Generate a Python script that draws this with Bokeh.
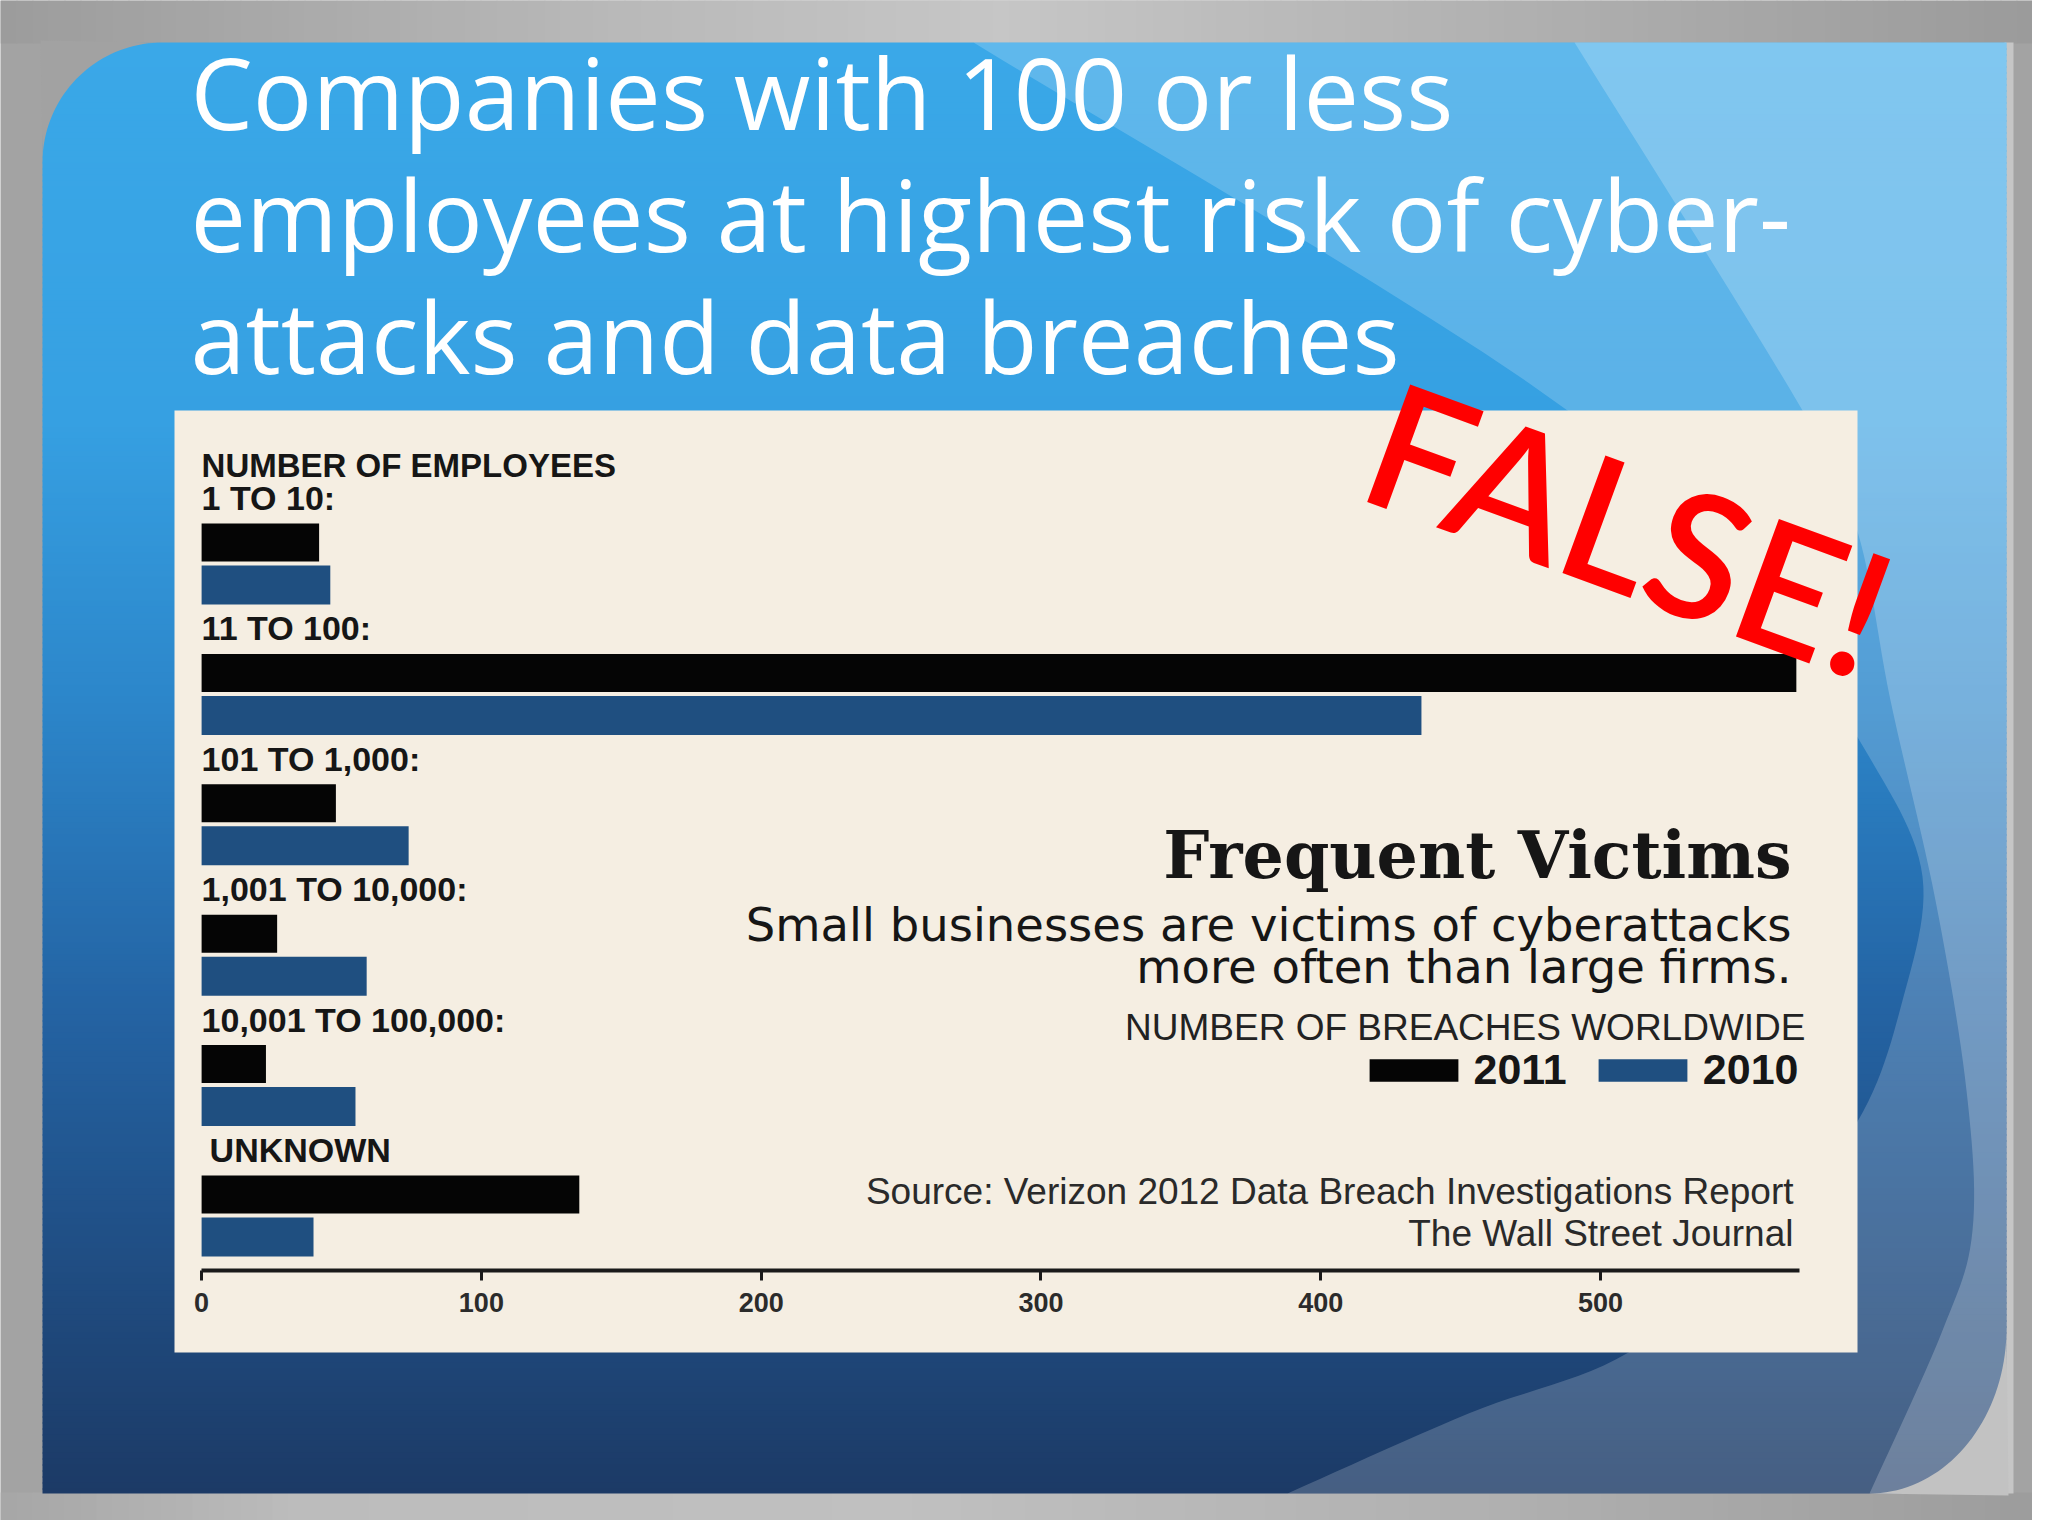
import numpy as np
from bokeh.plotting import figure
from bokeh.models import Range1d, FixedTicker, Legend, LegendItem, ColumnDataSource
from bokeh.core.properties import value
from bokeh.embed import file_html
from bokeh.resources import INLINE

# ---------------- data ----------------
CATEGORIES = ["1 TO 10:", "11 TO 100:", "101 TO 1,000:", "1,001 TO 10,000:",
              "10,001 TO 100,000:", "UNKNOWN"]
BREACHES_2011 = [42, 570, 48, 27, 23, 135]
BREACHES_2010 = [46, 436, 74, 59, 55, 40]
SERIES = ["2011", "2010"]
TICKS = [0, 100, 200, 300, 400, 500]

TITLE_LINES = ["Companies with 100 or less",
               "employees at highest risk of cyber-",
               "attacks and data breaches"]
HEADER = "NUMBER OF EMPLOYEES"
CHART_TITLE = "Frequent Victims"
SUBTITLE = ["Small businesses are victims of cyberattacks",
            "more often than large firms."]
UNITS = "NUMBER OF BREACHES WORLDWIDE"
SOURCE = ["Source: Verizon 2012 Data Breach Investigations Report",
          "The Wall Street Journal"]
STAMP = "FALSE!"

# ---------------- layout / style ----------------
W, H = 2032, 1520
PX_PER_UNIT = 2.7978      # screen px per breach
ZERO_PX = 201.1           # page x of value 0
GROUP_TOP0, GROUP_STEP = 523.0, 130.4
BAR_H11, BAR_GAP, BAR_H10 = 38, 4, 39
C_2011, C_2010 = "#050505", "#1f4f80"
CREAM = "#f5eee2"
TXT = "#161616"
SANS = "Liberation Sans"

p = figure(width=W, height=H, output_backend="svg", toolbar_location=None,
           x_range=Range1d((0 - ZERO_PX) / PX_PER_UNIT, (W - ZERO_PX) / PX_PER_UNIT),
           y_range=Range1d(H, 0), y_axis_type=None, min_border=0,
           background_fill_color="#a3a3a3", border_fill_color="#a3a3a3",
           outline_line_color=None)
p.extra_x_ranges = {"px": Range1d(0, W)}
p.grid.visible = False


def hexc(c):
    return "#%02x%02x%02x" % tuple(int(round(v)) for v in c)


def grad(stops, v):
    for (a, ca), (b, cb) in zip(stops[:-1], stops[1:]):
        if v <= b:
            t = (v - a) / (b - a) if b > a else 0
            t = min(max(t, 0), 1)
            return hexc([ca[k] + (cb[k] - ca[k]) * t for k in range(3)])
    return hexc(stops[-1][1])


def smooth(pts, n=12):
    pts = [pts[0]] + list(pts) + [pts[-1]]
    out = []
    for i in range(1, len(pts) - 2):
        p0, p1, p2, p3 = [np.array(q, float) for q in pts[i - 1:i + 3]]
        for t in np.linspace(0, 1, n, endpoint=False):
            q = 0.5 * ((2 * p1) + (-p0 + p2) * t + (2 * p0 - 5 * p1 + 4 * p2 - p3) * t ** 2
                       + (-p0 + 3 * p1 - 3 * p2 + p3) * t ** 3)
            out.append(q)
    out.append(np.array(pts[-2], float))
    return [q[0] for q in out], [q[1] for q in out]


# ---- outer gray frame (top / bottom bands lighter in middle) ----
top_stops = [(0, (156, 156, 156)), (600, (184, 184, 184)), (1000, (198, 198, 198)),
             (1400, (181, 181, 181)), (2048, (154, 154, 154))]
bot_stops = [(0, (166, 166, 166)), (300, (188, 188, 188)), (900, (192, 192, 192)),
             (1500, (176, 176, 176)), (2048, (156, 156, 156))]
xs = np.arange(0, W, 16)
p.quad(left=xs, right=xs + 17, top=0, bottom=43, x_range_name="px",
       fill_color=[grad(top_stops, x + 8) for x in xs], line_color=None)
p.quad(left=xs, right=xs + 17, top=1492, bottom=H, x_range_name="px",
       fill_color=[grad(bot_stops, x + 8) for x in xs], line_color=None)
p.quad(left=[2004], right=[2013], top=[42], bottom=[1493], x_range_name="px",
       fill_color="#c6c6c6", line_color=None)

# ---- slide: vertical gradient ----
slide_stops = [(42, (58, 168, 232)), (420, (54, 160, 226)), (700, (44, 134, 202)),
               (1000, (36, 100, 164)), (1300, (31, 74, 126)), (1493, (28, 58, 102))]
ys = np.arange(42, 1493, 6)
p.quad(left=42, right=2006, top=ys, bottom=np.minimum(ys + 7, 1493), x_range_name="px",
       fill_color=[grad(slide_stops, y + 3) for y in ys], line_color=None)

# ---- light swooshes ----
C1 = [(973, 42), (1567, 410), (1790, 650), (1872, 762), (1922, 876), (1902, 1000),
      (1857, 1121), (1760, 1240), (1628, 1352), (1468, 1413), (1287, 1493)]
C2 = [(1574, 42), (1802, 410), (1857, 531), (1890, 700), (1935, 900), (1966, 1090),
      (1972, 1230), (1942, 1330), (1869, 1493)]
for curve, a in ((C1, 0.19), (C2, 0.21)):
    cx, cy = smooth(curve)
    cx += [2006, 2006]
    cy += [1493, 42]
    p.patch(cx, cy, x_range_name="px", fill_color="white", fill_alpha=a, line_color=None)

# ---- rounded slide corners (gray masks) ----
r = 120
th = np.linspace(0, np.pi / 2, 40)
mx = [40] + list(42 + r - r * np.sin(th)) + [40]
my = [40] + list(42 + r - r * np.cos(th)) + [40]
p.patch(mx, my, x_range_name="px", fill_color="#a2a2a2", line_color=None)
rx, ry = 137, 165
mx = [2008] + list(2006 - rx + rx * np.sin(th)) + [2008]
my = [1495] + list(1493 - ry + ry * np.cos(th)) + [1495]
p.patch(mx, my, x_range_name="px", fill_color="#c2c2c2", line_color=None)

# ---- slide title ----
p.text(x=[190] * 3, y=[91, 213, 335], text=TITLE_LINES, x_range_name="px",
       text_font=value("Open Sans"), text_font_size="99px", text_color="white",
       text_baseline="alphabetic", text_align="left")

# ---- cream chart panel ----
p.quad(left=[174], right=[1857], top=[410], bottom=[1352], x_range_name="px",
       fill_color=CREAM, line_color=None)

# ---- bars ----
n = len(CATEGORIES)
tops = [GROUP_TOP0 + i * GROUP_STEP for i in range(n)]
src = ColumnDataSource(dict(
    cat=CATEGORIES, v11=BREACHES_2011, v10=BREACHES_2010,
    y11=[t + BAR_H11 / 2 for t in tops],
    y10=[t + BAR_H11 + BAR_GAP + BAR_H10 / 2 for t in tops],
    ylab=[t - 25.5 for t in tops],
    xoff=[8 if c == "UNKNOWN" else 0 for c in CATEGORIES],
))
r11 = p.hbar(y="y11", left=0, right="v11", height=BAR_H11, source=src,
             fill_color=C_2011, line_color=None)
r10 = p.hbar(y="y10", left=0, right="v10", height=BAR_H10, source=src,
             fill_color=C_2010, line_color=None)

p.text(x=0, y="ylab", text="cat", x_offset="xoff", source=src,
       text_font=value(SANS), text_font_style="bold", text_font_size="34px",
       text_color=TXT, text_baseline="alphabetic", text_align="left")
p.text(x=[0], y=[465], text=[HEADER], text_font=value(SANS), text_font_style="bold",
       text_font_size="33px", text_color=TXT, text_baseline="alphabetic", text_align="left")

# ---- right-hand annotation texts ----
p.text(x=[1791], y=[854], text=[CHART_TITLE], x_range_name="px",
       text_font=value("DejaVu Serif"), text_font_style="bold", text_font_size="65px",
       text_color=TXT, text_baseline="alphabetic", text_align="right")
p.text(x=[1791, 1791], y=[924, 966], text=SUBTITLE, x_range_name="px",
       text_font=value("DejaVu Sans"), text_font_size="46.5px",
       text_color=TXT, text_baseline="alphabetic", text_align="right")
p.text(x=[1805], y=[1027], text=[UNITS], x_range_name="px",
       text_font=value(SANS), text_font_size="37px",
       text_color="#222222", text_baseline="alphabetic", text_align="right")
p.text(x=[1793, 1793], y=[1191, 1233], text=SOURCE, x_range_name="px",
       text_font=value(SANS), text_font_size="37px",
       text_color="#2a2a2a", text_baseline="alphabetic", text_align="right")

# ---- legend ----
legend = Legend(items=[LegendItem(label=SERIES[0], renderers=[r11]),
                       LegendItem(label=SERIES[1], renderers=[r10])],
                orientation="horizontal", location=(1357.5, 426), padding=0, margin=0,
                spacing=20, label_standoff=5, glyph_width=111, glyph_height=28,
                background_fill_alpha=0, border_line_alpha=0,
                label_text_font=SANS, label_text_font_style="bold",
                label_text_font_size="43px", label_text_color=TXT)
p.add_layout(legend)

# ---- x axis, drawn inside the panel ----
ax = p.xaxis[0]
ax.fixed_location = 1270
ax.ticker = FixedTicker(ticks=TICKS)
ax.bounds = (0, 571)
ax.axis_line_width = 4
ax.axis_line_color = "#1a1a1a"
ax.major_tick_in = 0
ax.major_tick_out = 10
ax.major_tick_line_width = 3
ax.major_tick_line_color = "#1a1a1a"
ax.minor_tick_line_color = None
ax.major_label_standoff = 12
ax.major_label_text_font = SANS
ax.major_label_text_font_style = "bold"
ax.major_label_text_font_size = "27px"
ax.major_label_text_color = "#2b2b2b"

# ---- red stamp ----
p.text(x=[1376], y=[433], text=[STAMP], x_range_name="px", angle=-0.35,
       text_font=value("'Lato Semibold', Lato, sans-serif"), text_font_size="174px",
       text_color="#ff0000", text_baseline="alphabetic", text_align="left")

open("out.html", "w").write(file_html(p, INLINE))
